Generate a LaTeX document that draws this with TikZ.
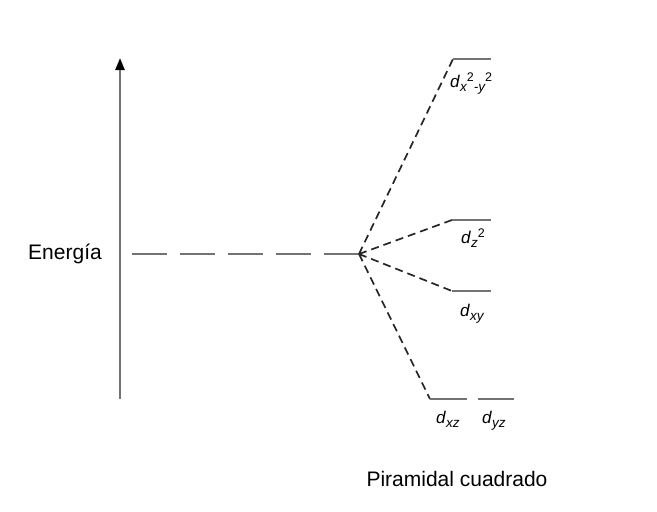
\documentclass[tikz,border=0pt]{standalone}
\usepackage{fontspec}
\setmainfont{Liberation Sans}
\usetikzlibrary{arrows.meta}
\newcommand{\orb}[1]{\textit{d}\raisebox{-0.45ex}{\fontsize{13.5}{14}\selectfont\textit{#1}}}
\newcommand{\sq}{\raisebox{1.3ex}{\fontsize{12.5}{13}\selectfont\upshape 2}}
\begin{document}
\begin{tikzpicture}[x=1pt, y=-1pt, font=\fontsize{21}{24}\selectfont, line join=round, >={Triangle[length=12pt,width=9pt,black]}]
		\def\gris{black!55}
		\tikzset{nivel/.style={\gris, line width=2.7pt}, orbital/.style={anchor=base west, inner sep=0pt, font=\fontsize{17}{19}\selectfont}}
		\useasboundingbox (0,0) rectangle (657,512);
		\draw[\gris, line width=2.4pt, ->] (120,399)--(120,58);
		\node (E) at (65,254) {Energía};
		\coordinate (c) at (359,254);
		\draw[nivel, dash pattern=on 35pt off 13pt] (132,254)--(c);
		% niveles del campo piramidal cuadrado
		\coordinate (a1) at (453,59);  \coordinate (a2) at (491,59);
		\coordinate (b1) at (452,220); \coordinate (b2) at (491,220);
		\coordinate (e1) at (452,291); \coordinate (e2) at (491,291);
		\coordinate (f1) at (430,399); \coordinate (f2) at (467,399);
		\coordinate (g1) at (478,399); \coordinate (g2) at (514,399);
		\draw[black!85, line width=1.7pt, dash pattern=on 8pt off 5pt] (c)--(a1) (c)--(b1) (c)--(e1) (c)--(f1);
		\draw[nivel] (a1)--(a2) (b1)--(b2) (e1)--(e2) (f1)--(f2) (g1)--(g2);
		\node[orbital] (dx) at (450,87) {\orb{x\sq-y\sq}};
		\node[orbital] (dz) at (461,243) {\orb{z\sq}};
		\node[orbital] (dxy) at (460,316) {\orb{xy}};
		\node[orbital] (dxz) at (436,423) {\orb{xz}};
		\node[orbital] (dyz) at (482,423) {\orb{yz}};
		\node (P) at (457,479) {Piramidal cuadrado};
\end{tikzpicture}
\end{document}
